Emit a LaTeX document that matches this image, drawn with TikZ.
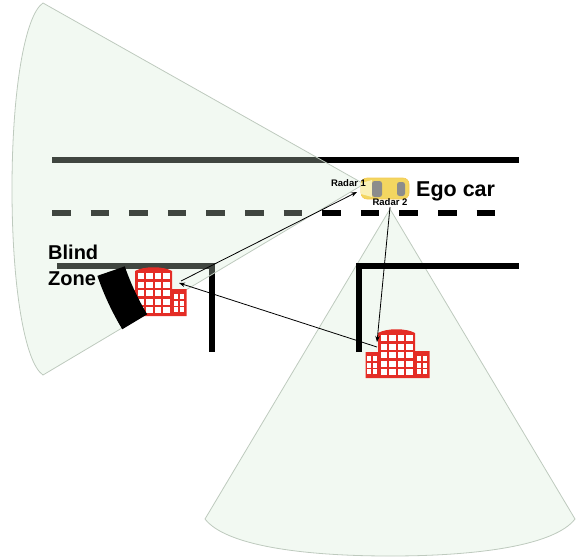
\documentclass[tikz,border=0pt]{standalone}
\usepackage{fontspec}
\setmainfont{Liberation Sans}
\usetikzlibrary{calc,arrows.meta}

\definecolor{fovfill}{RGB}{242,249,242}
\definecolor{fovtint}{RGB}{212,235,212}
\definecolor{fovedge}{RGB}{190,202,190}
\definecolor{bred}{RGB}{228,45,38}
\definecolor{caryellow}{RGB}{243,214,96}
\definecolor{carpale}{RGB}{250,240,182}
\definecolor{glass}{RGB}{140,140,140}

\tikzset{
  wall/.style={line width=6pt, line join=miter, black},
  fov/.style={draw=fovedge, line width=0.8pt},
  sig/.style={line width=0.8pt, black, -{Stealth[length=6pt,width=4.5pt]}},
  lbl/.style={font=\bfseries, inner sep=0pt},
  pics/office/.style={code={
    % outline of the building: arched tower with two low wings
    \fill[bred] (-31,0) -- (-31,-26) -- (-18.5,-26) -- (-18.5,-45)
      .. controls (-10,-50) and (10,-50) .. (18.5,-45)
      -- (18.5,-27) -- (33,-27) -- (33,0) -- cycle;
    % tower windows
    \foreach \c in {-12.75,-4.25,4.25,12.75}
      \foreach \r in {-43,-34.5,-26,-17.5,-9}
        \fill[white] (\c-3.25,\r) rectangle ++(6.5,6);
    % wing windows
    \foreach \c in {-29.5,-24,20.5,26.5}
      \foreach \r in {-22,-15.5,-9}
        \fill[white] (\c,\r) rectangle ++(4,5);
  }}
}

\begin{document}
\begin{tikzpicture}[x=1pt,y=-1pt]
\useasboundingbox (0,0) rectangle (577,557);

% apex points of the two radar fields of view
\coordinate (A1) at (364,184);
\coordinate (A2) at (390,209);

% field of view of Radar 2 (downwards)
\path[fov, fill=fovfill] (A2) -- (205,519)
  .. controls (225,545) and (300,556) .. (390,556)
  .. controls (480,556) and (555,545) .. (575,519) -- cycle;

% road edge, lane marking and walls
\draw[wall] (52,160) -- (519,160);
\draw[line width=6pt, dash pattern=on 18.5pt off 20.1pt] (52,213) -- (496,213);
\draw[wall] (57,266) -- (212,266) -- (212,352);
\draw[wall] (359,352) -- (359,266) -- (519,266);

% field of view of Radar 1 (to the left), tinted over the road
\fill[fovtint, opacity=0.3] (A1) -- (43,3)
  .. controls (25,15) and (12,90) .. (12,189)
  .. controls (12,288) and (25,363) .. (43,375) -- cycle;
\draw[fov] (A1) -- (43,3)
  .. controls (25,15) and (12,90) .. (12,189)
  .. controls (12,288) and (25,363) .. (43,375) -- cycle;

% buildings
\pic at (153.5,316) {office};
\pic at (396.5,378) {office};

% blind zone shadowed by the near building
\fill[black] ($(A1)+(149:253)$) arc[start angle=149, end angle=161, radius=253]
  -- ($(A1)+(161:282)$) arc[start angle=161, end angle=149, radius=282] -- cycle;

% ego car
\fill[caryellow, draw=caryellow!85!orange, line width=0.6pt, rounded corners=6pt]
  (361,178) rectangle (409,199);
\fill[carpale] (361,183) -- (372,180) -- (372,197) -- (361,194) -- cycle;
\fill[glass, rounded corners=2.5pt] (372,181) rectangle (382,197);
\fill[glass, rounded corners=2.5pt] (397,182) rectangle (405,196);

% signal path end points
\coordinate (r1) at (357,192);
\coordinate (r2) at (390,207);
\coordinate (farIn) at (377,342);
\coordinate (farOut) at (377,347);
\coordinate (nearIn) at (179,283);
\coordinate (nearOut) at (181,281);

% multipath reflections
\draw[sig] (r2) -- (farIn);
\draw[sig] (farOut) -- (nearIn);
\draw[sig] (nearOut) -- (r1);

% labels
\node[lbl, font=\bfseries\fontsize{9.5}{11}\selectfont, anchor=base] (t1) at (348.5,186.5) {Radar 1};
\node[lbl, font=\bfseries\fontsize{9.5}{11}\selectfont, anchor=base] (t2) at (390,205) {Radar 2};
\node[lbl, font=\bfseries\fontsize{21.5}{24}\selectfont, anchor=base west] (ego) at (416,196) {Ego car};
\node[lbl, font=\bfseries\fontsize{20}{24}\selectfont, anchor=base west] (bz1) at (48,259) {Blind};
\node[lbl, font=\bfseries\fontsize{20}{24}\selectfont, anchor=base west] (bz2) at (48,285) {Zone};
\end{tikzpicture}
\end{document}
